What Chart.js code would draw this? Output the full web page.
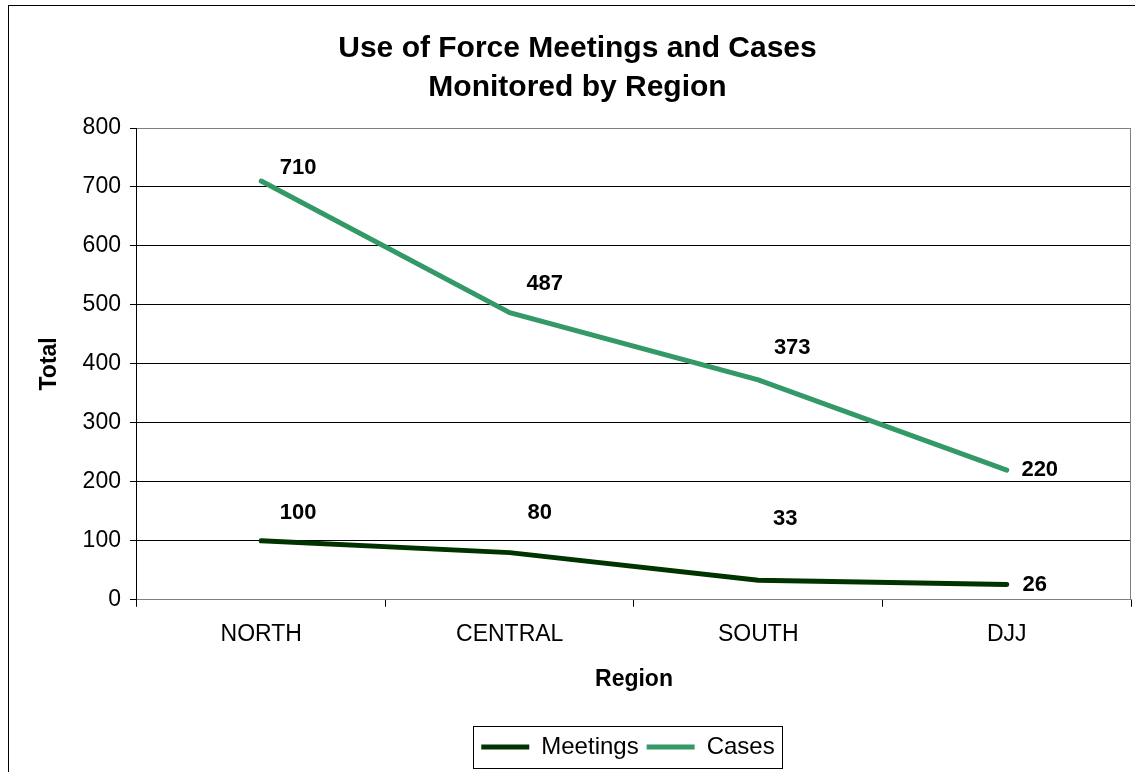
<!DOCTYPE html>
<html>
<head>
<meta charset="utf-8">
<script src="https://cdn.jsdelivr.net/npm/chart.js@4.4.0/dist/chart.umd.min.js"></script>
<style>
  html, body { margin: 0; padding: 0; background: #fff; overflow: hidden; }
  #wrap { width: 1135px; height: 772px; position: relative; }
</style>
</head>
<body>
<div id="wrap"><canvas id="forceChart" width="1135" height="772"></canvas></div>
<script>
// Chart data
const regions = ['NORTH', 'CENTRAL', 'SOUTH', 'DJJ'];
const meetings = [100, 80, 33, 26];
const cases = [710, 487, 373, 220];
const yTicks = [0, 100, 200, 300, 400, 500, 600, 700, 800];

// label offsets (px) from each point, per dataset
const labelOffsets = [
    [[37, -28], [30, -40], [27, -61], [28, 0]],
    [[37, -13], [35, -29], [34, -32], [33, 0]]
];

const FONT = '"Liberation Sans", Arial, sans-serif';

// draws the frame, plot border, value labels and legend box
const decorPlugin = {
    id: 'decor',
    afterLayout(chart) {
        // centre the legend under the plot area, not the whole canvas
        const a = chart.chartArea;
        const lg = chart.legend;
        const shift = (a.left + a.right) / 2 - 6 - (lg.left + lg.right) / 2;
        lg.left += shift;
        lg.right += shift;
        // nudge title a bit left
        chart.titleBlock.left -= 6;
        chart.titleBlock.right -= 6;
    },
    beforeDraw(chart) {
        const ctx = chart.ctx;
        ctx.save();
        ctx.fillStyle = '#fff';
        ctx.fillRect(0, 0, chart.width, chart.height);
        ctx.strokeStyle = '#000';
        ctx.lineWidth = 1;
        ctx.strokeRect(8.5, 5.5, 1300, 900);
        ctx.restore();
    },
    afterDatasetsDraw(chart) {
        const ctx = chart.ctx;
        const a = chart.chartArea;
        ctx.save();
        ctx.strokeStyle = '#808080';
        ctx.lineWidth = 1;
        ctx.beginPath();
        ctx.moveTo(Math.round(a.right) - 0.5, a.top);
        ctx.lineTo(Math.round(a.right) - 0.5, a.bottom);
        ctx.stroke();

        ctx.fillStyle = '#000';
        ctx.font = 'bold 22px ' + FONT;
        ctx.textAlign = 'center';
        ctx.textBaseline = 'middle';
        chart.data.datasets.forEach((ds, i) => {
            const meta = chart.getDatasetMeta(i);
            meta.data.forEach((pt, j) => {
                const off = labelOffsets[i][j];
                ctx.fillText(String(ds.data[j]), pt.x + off[0], pt.y + off[1]);
            });
        });
        ctx.restore();
    },
    afterDraw(chart) {
        const boxes = chart.legend.legendHitBoxes;
        if (!boxes || !boxes.length) return;
        const ctx = chart.ctx;
        let l = Infinity, r = -Infinity, t = Infinity, b = -Infinity;
        boxes.forEach(h => {
            l = Math.min(l, h.left); r = Math.max(r, h.left + h.width);
            t = Math.min(t, h.top); b = Math.max(b, h.top + h.height);
        });
        ctx.save();
        ctx.strokeStyle = '#000';
        ctx.lineWidth = 1;
        ctx.strokeRect(Math.round(l - 8) + 0.5, Math.round(t - 9) + 0.5, Math.round(r - l + 16), Math.round(b - t + 18));
        ctx.restore();
    }
};

const ctx = document.getElementById('forceChart').getContext('2d');
const forceChart = new Chart(ctx, {
    type: 'line',
    data: {
        labels: regions,
        datasets: [{
            label: 'Meetings',
            data: meetings,
            borderColor: '#003300',
            backgroundColor: '#003300',
            borderWidth: 5,
            pointRadius: 0,
            tension: 0,
            borderCapStyle: 'round'
        }, {
            label: 'Cases',
            data: cases,
            borderColor: '#339966',
            backgroundColor: '#339966',
            borderWidth: 5,
            pointRadius: 0,
            tension: 0,
            borderCapStyle: 'round'
        }]
    },
    options: {
        responsive: false,
        animation: false,
        layout: {
            padding: { left: 36, right: 4, top: 0, bottom: 3 }
        },
        plugins: {
            title: {
                display: true,
                text: ['Use of Force Meetings and Cases', 'Monitored by Region'],
                color: '#000',
                font: { family: FONT, size: 30, weight: 'bold', lineHeight: 1.3 },
                padding: { top: 29, bottom: 21 }
            },
            legend: {
                position: 'bottom',
                labels: {
                    usePointStyle: true,
                    pointStyle: 'line',
                    pointStyleWidth: 48,
                    color: '#000',
                    font: { family: FONT, size: 24 },
                    padding: 8
                }
            },
            tooltip: { enabled: false }
        },
        scales: {
            x: {
                offset: true,
                grid: {
                    offset: true,
                    drawOnChartArea: false,
                    drawTicks: true,
                    tickLength: 7,
                    color: '#000'
                },
                border: { color: '#808080', width: 1 },
                ticks: {
                    color: '#000',
                    font: { family: FONT, size: 23 },
                    padding: 14
                },
                title: {
                    display: true,
                    text: 'Region',
                    color: '#000',
                    font: { family: FONT, size: 23, weight: 'bold' },
                    padding: { top: 3, bottom: 34 }
                }
            },
            y: {
                min: 0,
                max: 800,
                afterBuildTicks(scale) {
                    scale.ticks = yTicks.map(v => ({ value: v }));
                },
                grid: {
                    color(c) {
                        return (c.index === 0 || c.index === yTicks.length - 1) ? '#808080' : '#000';
                    },
                    tickColor: '#000',
                    tickLength: 7
                },
                border: { color: '#000', width: 1 },
                ticks: {
                    color: '#000',
                    font: { family: FONT, size: 23 },
                    padding: 9
                },
                title: {
                    display: true,
                    text: 'Total',
                    color: '#000',
                    font: { family: FONT, size: 23, weight: 'bold' },
                    padding: { top: 0, bottom: 10 }
                }
            }
        }
    },
    plugins: [decorPlugin]
});
</script>
</body>
</html>
